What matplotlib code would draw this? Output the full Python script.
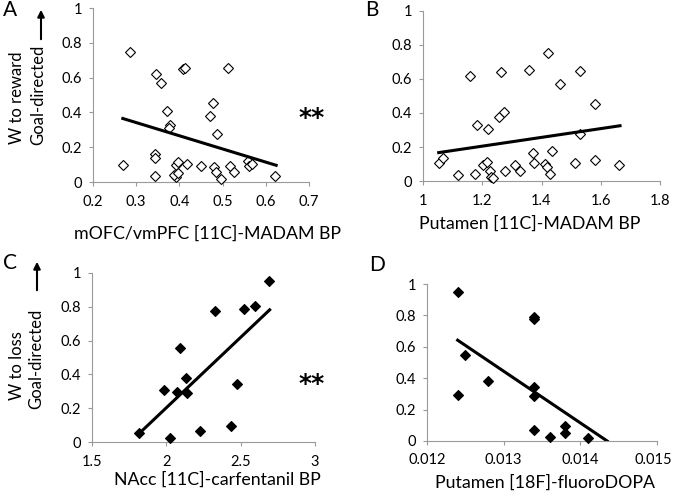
"""Four-panel scatter plot of goal-directed weights against PET binding
measures, with linear regression lines."""

import numpy as np
import matplotlib
matplotlib.use("Agg")
from matplotlib import pyplot as plt
from matplotlib.transforms import ScaledTranslation


# =============================================================================
# Data
# =============================================================================
# Panel A: mOFC/vmPFC [11C]-MADAM BP vs W to reward
a_x = [0.269, 0.285, 0.345, 0.357, 0.344, 0.344, 0.344, 0.372, 0.379, 0.377,
    0.408, 0.413, 0.392, 0.397, 0.392, 0.387, 0.396, 0.417, 0.449, 0.471,
    0.477, 0.480, 0.485, 0.487, 0.496, 0.512, 0.516, 0.526, 0.559, 0.562,
    0.567, 0.621]
a_y = [0.10, 0.75, 0.62, 0.57, 0.163, 0.137, 0.035, 0.41, 0.327, 0.31,
    0.648, 0.656, 0.10, 0.113, 0.029, 0.038, 0.052, 0.104, 0.092, 0.379,
    0.452, 0.085, 0.06, 0.277, 0.015, 0.654, 0.092, 0.058, 0.121, 0.092,
    0.106, 0.037]
a_fit_x = [0.269, 0.624]
a_fit_y = [0.365, 0.096]

# Panel B: Putamen [11C]-MADAM BP vs W to reward
b_x = [1.055, 1.069, 1.118, 1.157, 1.175, 1.181, 1.201, 1.217, 1.220, 1.226,
    1.228, 1.235, 1.258, 1.264, 1.275, 1.276, 1.309, 1.326, 1.358, 1.372,
    1.374, 1.413, 1.420, 1.422, 1.429, 1.436, 1.462, 1.512, 1.529, 1.530,
    1.579, 1.579, 1.661]
b_y = [0.104, 0.133, 0.033, 0.62, 0.041, 0.327, 0.092, 0.112, 0.308, 0.057,
    0.025, 0.020, 0.376, 0.643, 0.404, 0.059, 0.092, 0.059, 0.651, 0.163,
    0.108, 0.098, 0.084, 0.751, 0.039, 0.178, 0.569, 0.106, 0.649, 0.276,
    0.453, 0.125, 0.092]
b_fit_x = [1.053, 1.665]
b_fit_y = [0.167, 0.325]

# Panel C: NAcc [11C]-carfentanil BP vs W to loss
c_x = [1.818, 1.987, 2.027, 2.074, 2.092, 2.135, 2.137, 2.224, 2.325, 2.435,
    2.473, 2.520, 2.596, 2.693]
c_y = [0.051, 0.309, 0.026, 0.295, 0.554, 0.38, 0.287, 0.067, 0.776, 0.093,
    0.343, 0.788, 0.806, 0.952]
c_fit_x = [1.818, 2.695]
c_fit_y = [0.051, 0.782]

# Panel D: Putamen [18F]-fluoroDOPA vs W to loss
d_x = [0.0124, 0.0124, 0.0125, 0.0128, 0.0134, 0.0134, 0.0134, 0.0134,
    0.0134, 0.0136, 0.0138, 0.0138, 0.0141]
d_y = [0.951, 0.294, 0.547, 0.379, 0.790, 0.775, 0.341, 0.286, 0.068, 0.028,
    0.093, 0.053, 0.017]
d_fit_x = [0.0124, 0.01435]
d_fit_y = [0.642, 0.0]


# =============================================================================
# Plot parameters
# =============================================================================
W, H = 674, 496
matplotlib.rcParams['font.family'] = ['Lato', 'DejaVu Sans']
matplotlib.rcParams['axes.spines.right'] = False
matplotlib.rcParams['axes.spines.top'] = False
matplotlib.rcParams['axes.linewidth'] = 0.8
matplotlib.rcParams['axes.edgecolor'] = '#9a9a9a'
matplotlib.rcParams['xtick.color'] = '#9a9a9a'
matplotlib.rcParams['ytick.color'] = '#9a9a9a'
matplotlib.rcParams['xtick.labelcolor'] = 'black'
matplotlib.rcParams['ytick.labelcolor'] = 'black'
matplotlib.rcParams['xtick.major.size'] = 3
matplotlib.rcParams['ytick.major.size'] = 3
matplotlib.rcParams['xtick.labelsize'] = 10.5
matplotlib.rcParams['ytick.labelsize'] = 10.5
xlabel_size = 12.8
ylabel_size = 12

fig = plt.figure(figsize=(W / 100, H / 100), dpi=100)


def px_axes(left, top, right, bottom):
    """Create axes from pixel bounds (origin at top-left)."""
    ax = fig.add_axes([left / W, 1 - bottom / H, (right - left) / W,
        (bottom - top) / H])
    ax.px_box = (left, top, right, bottom)
    return ax


def draw_panel(ax, x, y, fit_x, fit_y, filled, xlim, xticks, xlabels, xlabel,
        label_xy):
    face = 'black' if filled else 'white'
    ax.plot(x, y, linestyle='none', marker='D', markersize=5.5,
        markerfacecolor=face, markeredgecolor='black', markeredgewidth=0.8,
        zorder=3, clip_on=False)
    ax.plot(fit_x, fit_y, color='black', linewidth=2.2, zorder=4)
    ax.set_xlim(xlim)
    ax.set_ylim(0, 1)
    ax.set_xticks(xticks)
    ax.set_xticklabels(xlabels)
    ax.set_yticks([0, 0.2, 0.4, 0.6, 0.8, 1])
    ax.set_yticklabels(['0', '0.2', '0.4', '0.6', '0.8', '1'])
    ax.tick_params(axis='x', pad=6)
    ax.tick_params(axis='y', pad=5)
    ax.set_xlabel(xlabel, fontsize=xlabel_size)
    # Place the x label centre at the given pixel position
    left, top, right, bottom = ax.px_box
    lx = (label_xy[0] - left) / (right - left)
    ly = (bottom - label_xy[1]) / (bottom - top)
    ax.xaxis.set_label_coords(lx, ly)
    ax.xaxis.label.set_va('center')


# =============================================================================
# Panels
# =============================================================================
ax_a = px_axes(93, 8, 309, 182)
draw_panel(ax_a, a_x, a_y, a_fit_x, a_fit_y, False, (0.2, 0.7),
    [0.2, 0.3, 0.4, 0.5, 0.6, 0.7], ['0.2', '0.3', '0.4', '0.5', '0.6', '0.7'],
    'mOFC/vmPFC [11C]-MADAM BP', (207, 234))

ax_b = px_axes(423, 11, 660, 181)
draw_panel(ax_b, b_x, b_y, b_fit_x, b_fit_y, False, (1.0, 1.8),
    [1.0, 1.2, 1.4, 1.6, 1.8], ['1', '1.2', '1.4', '1.6', '1.8'],
    'Putamen [11C]-MADAM BP', (530, 224))

ax_c = px_axes(92, 273, 315, 442)
draw_panel(ax_c, c_x, c_y, c_fit_x, c_fit_y, True, (1.5, 3.0),
    [1.5, 2.0, 2.5, 3.0], ['1.5', '2', '2.5', '3'],
    'NAcc [11C]-carfentanil BP', (217, 480))

ax_d = px_axes(427, 284, 657, 441)
draw_panel(ax_d, d_x, d_y, d_fit_x, d_fit_y, True, (0.012, 0.015),
    [0.012, 0.013, 0.014, 0.015], ['0.012', '0.013', '0.014', '0.015'],
    'Putamen [18F]-fluoroDOPA', (545, 483))

# Keep the last tick label of panel D inside the figure
last = ax_d.xaxis.get_major_ticks()[-1].label1
last.set_transform(last.get_transform()
    + ScaledTranslation(-4 / 100, 0, fig.dpi_scale_trans))


# =============================================================================
# Annotations (figure pixel coordinates)
# =============================================================================
def fig_text(x, y, s, **kw):
    return fig.text(x / W, 1 - y / H, s, **kw)


# Panel letters
fig_text(3, 10, 'A', fontsize=15, va='center', ha='left')
fig_text(365, 10, 'B', fontsize=15, va='center', ha='left')
fig_text(3, 263, 'C', fontsize=15, va='center', ha='left')
fig_text(369, 265, 'D', fontsize=15, va='center', ha='left')

# Y-axis labels
fig_text(17, 98, 'W to reward', fontsize=ylabel_size, rotation=90,
    va='center', ha='center')
fig_text(38, 95, 'Goal-directed', fontsize=ylabel_size, rotation=90,
    va='center', ha='center')
fig_text(17, 366, 'W to loss', fontsize=ylabel_size, rotation=90,
    va='center', ha='center')
fig_text(36, 359, 'Goal-directed', fontsize=ylabel_size, rotation=90,
    va='center', ha='center')

# Arrows above "Goal-directed"
for ax_x, y0, y1 in [(41, 42, 7), (37, 293, 259)]:
    fig.patches.append(matplotlib.patches.FancyArrowPatch(
        (ax_x / W, 1 - y0 / H), (ax_x / W, 1 - y1 / H),
        transform=fig.transFigure, arrowstyle='-|>', mutation_scale=10,
        color='black', linewidth=1.5))

# Significance stars
fig_text(312, 125, '**', fontsize=18, va='baseline', ha='center',
    family='DejaVu Sans', fontweight='bold')
fig_text(312, 391, '**', fontsize=18, va='baseline', ha='center',
    family='DejaVu Sans', fontweight='bold')

fig.savefig('out.png', dpi=100)
plt.close()
